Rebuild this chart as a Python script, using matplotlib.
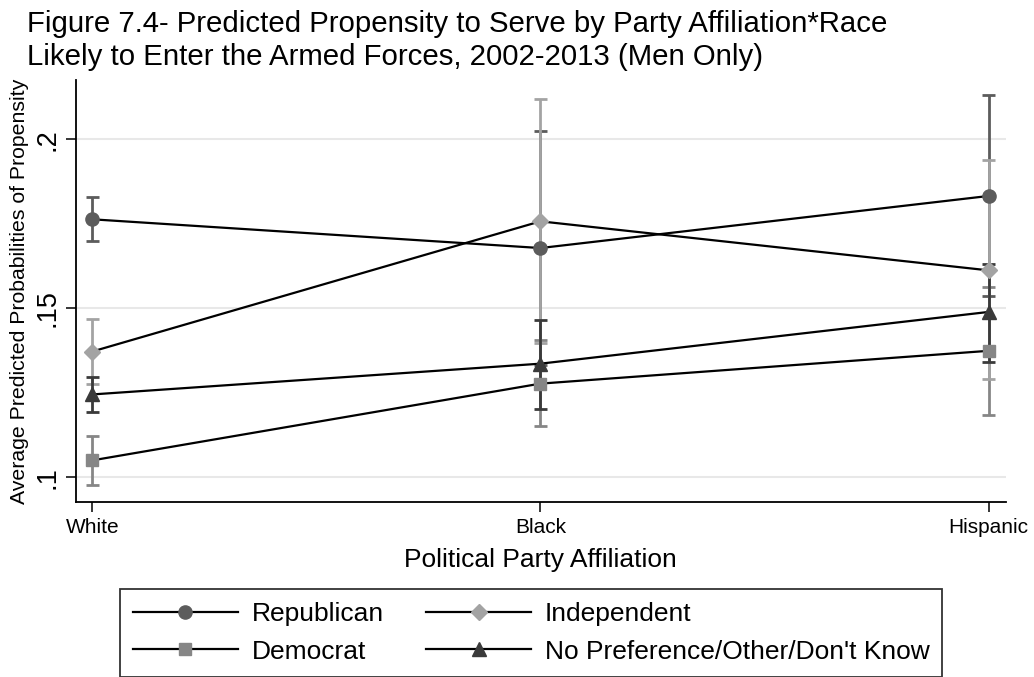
import matplotlib
matplotlib.use("Agg")
import matplotlib.pyplot as plt
from matplotlib.lines import Line2D

plt.rcParams['font.family'] = ['Liberation Sans', 'DejaVu Sans']

# Race groups on the x axis
races = ["White", "Black", "Hispanic"]

# Predicted probabilities and 95% CI bounds by party affiliation
rep_est = [0.1763, 0.1678, 0.1832]
rep_lo = [0.1698, 0.1332, 0.1536]
rep_hi = [0.1828, 0.2024, 0.2130]

dem_est = [0.1050, 0.1277, 0.1374]
dem_lo = [0.0976, 0.1151, 0.1183]
dem_hi = [0.1123, 0.1405, 0.1563]

ind_est = [0.1372, 0.1757, 0.1612]
ind_lo = [0.1275, 0.1396, 0.1292]
ind_hi = [0.1469, 0.2119, 0.1938]

nop_est = [0.1245, 0.1336, 0.1489]
nop_lo = [0.1192, 0.1203, 0.1341]
nop_hi = [0.1298, 0.1464, 0.1632]

y_ticks = [0.1, 0.15, 0.2]
y_tick_labels = [".1", ".15", ".2"]

series = [
    # label, est, lo, hi, marker, colour, marker size
    ("Republican", rep_est, rep_lo, rep_hi, "o", "#5c5c5c", 9.5),
    ("Democrat", dem_est, dem_lo, dem_hi, "s", "#868686", 9),
    ("Independent", ind_est, ind_lo, ind_hi, "D", "#a3a3a3", 8),
    ("No Preference/Other/Don't Know", nop_est, nop_lo, nop_hi, "^", "#3a3a3a", 10),
]

fig = plt.figure(figsize=(10.34, 6.77), dpi=100)
ax = fig.add_axes([75.7 / 1034, 1 - 502.3 / 677, (1006 - 75.7) / 1034, (502.3 - 80) / 677])

x = list(range(len(races)))

# confidence-interval caps first, then connecting lines and markers on top
for i, (label, est, lo, hi, mk, col, ms) in enumerate(series):
    ax.vlines(x, lo, hi, colors=col, linewidth=2.0, zorder=2 + i * 0.1)
    for xi, l, h in zip(x, lo, hi):
        for yv in (l, h):
            ax.plot([xi - 0.0145, xi + 0.0145], [yv, yv], color=col,
                    linewidth=2.0, solid_capstyle="butt", zorder=2 + i * 0.1)

handles = {}
for label, est, lo, hi, mk, col, ms in series:
    ax.plot(x, est, color="black", linewidth=1.6, zorder=4)
    ax.plot(x, est, linestyle="none", marker=mk, markersize=ms,
            markerfacecolor=col, markeredgecolor=col, zorder=5)
    handles[label] = Line2D([], [], color="black", linewidth=1.6, marker=mk,
                            markersize=ms, markerfacecolor=col, markeredgecolor=col)

ax.set_xlim(-0.037, 2.039)
ax.set_ylim(0.0926, 0.2175)

ax.set_xticks(x)
ax.set_xticklabels(races, fontsize=15)
ax.set_yticks(y_ticks)
ax.set_yticklabels(y_tick_labels, fontsize=19.5, rotation=90, va="center")
ax.tick_params(axis="both", direction="out", length=7, width=1.1, color="black", pad=4)

ax.grid(axis="y", color="#e8e8e8", linewidth=1.5, zorder=0)
ax.set_axisbelow(True)
for side in ("top", "right"):
    ax.spines[side].set_visible(False)
for side in ("left", "bottom"):
    ax.spines[side].set_linewidth(1.3)

ax.set_xlabel("Political Party Affiliation", fontsize=19, labelpad=8)
ax.set_ylabel("Average Predicted Probabilities of Propensity", fontsize=15.3, labelpad=4)

fig.text(27 / 1034, 1 - 32 / 677,
         "Figure 7.4- Predicted Propensity to Serve by Party Affiliation*Race",
         fontsize=21.2, va="baseline", ha="left")
fig.text(27 / 1034, 1 - 65 / 677,
         "Likely to Enter the Armed Forces, 2002-2013 (Men Only)",
         fontsize=21.2, va="baseline", ha="left")

order = ["Republican", "Democrat", "Independent", "No Preference/Other/Don't Know"]
leg = fig.legend([handles[k] for k in order], order, ncol=2, loc="center",
                 bbox_to_anchor=(531 / 1034, 1 - 633 / 677), fontsize=19,
                 frameon=True, fancybox=False, edgecolor="black",
                 handlelength=4.0, handletextpad=0.5, columnspacing=1.6,
                 labelspacing=0.5, borderpad=0.5)
leg.get_frame().set_linewidth(1.3)

fig.savefig("out.png", dpi=100)
